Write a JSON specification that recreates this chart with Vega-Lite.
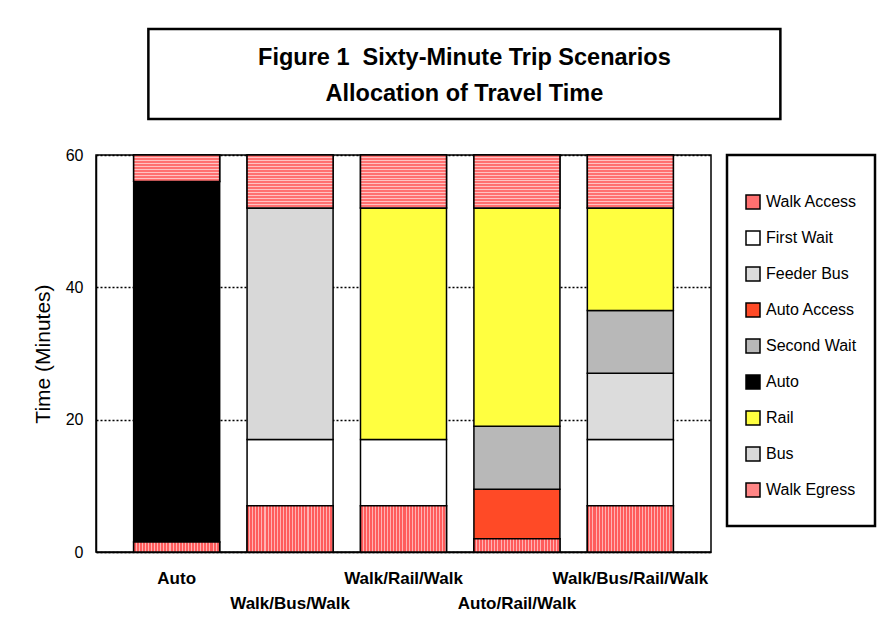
{
  "$schema": "https://vega.github.io/schema/vega-lite/v6.json",
  "background": "white",
  "padding": {"left": 31, "top": 27, "right": 0, "bottom": 5},
  "spacing": 25,
  "center": true,
  "resolve": {"legend": {"color": "independent"}},
  "config": {
    "font": "Liberation Sans",
    "view": {"stroke": "black", "strokeWidth": 1.5},
    "axis": {"domainColor": "black", "domainWidth": 1.5, "labelColor": "black", "titleColor": "black"}
  },
  "vconcat": [
    {
      "width": 632,
      "height": 90,
      "view": {"stroke": "black", "strokeWidth": 2.5},
      "data": {"values": [
        {"line": "Figure 1\u00a0 Sixty-Minute Trip Scenarios", "row": 1},
        {"line": "Allocation of Travel Time", "row": 2}
      ]},
      "mark": {"type": "text", "fontSize": 23.5, "fontWeight": "bold", "color": "black", "dy": 2},
      "encoding": {
        "y": {
          "field": "row", "type": "ordinal",
          "scale": {"type": "point", "padding": 0.76},
          "axis": {"orient": "right", "labels": false, "ticks": false, "domain": false, "grid": false, "title": null, "minExtent": 43, "maxExtent": 43}
        },
        "text": {"field": "line"}
      }
    },
    {
      "width": 615,
      "height": 397,
      "data": {"values": [
        {"mode": "Auto", "component": "Walk Access", "seq": 1, "minutes": 1.5},
        {"mode": "Auto", "component": "Auto", "seq": 6, "minutes": 54.5},
        {"mode": "Auto", "component": "Walk Egress", "seq": 9, "minutes": 4},
        {"mode": "Walk/Bus/Walk", "component": "Walk Access", "seq": 1, "minutes": 7},
        {"mode": "Walk/Bus/Walk", "component": "First Wait", "seq": 2, "minutes": 10},
        {"mode": "Walk/Bus/Walk", "component": "Bus", "seq": 8, "minutes": 35},
        {"mode": "Walk/Bus/Walk", "component": "Walk Egress", "seq": 9, "minutes": 8},
        {"mode": "Walk/Rail/Walk", "component": "Walk Access", "seq": 1, "minutes": 7},
        {"mode": "Walk/Rail/Walk", "component": "First Wait", "seq": 2, "minutes": 10},
        {"mode": "Walk/Rail/Walk", "component": "Rail", "seq": 7, "minutes": 35},
        {"mode": "Walk/Rail/Walk", "component": "Walk Egress", "seq": 9, "minutes": 8},
        {"mode": "Auto/Rail/Walk", "component": "Walk Access", "seq": 1, "minutes": 2},
        {"mode": "Auto/Rail/Walk", "component": "Auto Access", "seq": 4, "minutes": 7.5},
        {"mode": "Auto/Rail/Walk", "component": "Second Wait", "seq": 5, "minutes": 9.5},
        {"mode": "Auto/Rail/Walk", "component": "Rail", "seq": 7, "minutes": 33},
        {"mode": "Auto/Rail/Walk", "component": "Walk Egress", "seq": 9, "minutes": 8},
        {"mode": "Walk/Bus/Rail/Walk", "component": "Walk Access", "seq": 1, "minutes": 7},
        {"mode": "Walk/Bus/Rail/Walk", "component": "First Wait", "seq": 2, "minutes": 10},
        {"mode": "Walk/Bus/Rail/Walk", "component": "Feeder Bus", "seq": 3, "minutes": 10},
        {"mode": "Walk/Bus/Rail/Walk", "component": "Second Wait", "seq": 5, "minutes": 9.5},
        {"mode": "Walk/Bus/Rail/Walk", "component": "Rail", "seq": 7, "minutes": 15.5},
        {"mode": "Walk/Bus/Rail/Walk", "component": "Walk Egress", "seq": 9, "minutes": 8}
      ]},
      "transform": [
        {"stack": "minutes", "groupby": ["mode"], "sort": [{"field": "seq", "order": "ascending"}], "as": ["y0", "y1"]}
      ],
      "encoding": {
        "x": {
          "field": "mode", "type": "nominal",
          "sort": ["Auto", "Walk/Bus/Walk", "Walk/Rail/Walk", "Auto/Rail/Walk", "Walk/Bus/Rail/Walk"],
          "scale": {"paddingInner": 0.2416, "paddingOuter": 0.332},
          "axis": {
            "title": null, "labelAngle": 0, "ticks": false, "tickSize": 0,
            "labelFontSize": 17, "labelFontWeight": "bold", "labelPadding": 18, "labelLineHeight": 25,
            "labelExpr": "indexof(['Walk/Bus/Walk','Auto/Rail/Walk'], datum.label) >= 0 ? ['', datum.label] : datum.label"
          }
        },
        "y": {
          "field": "y1", "type": "quantitative",
          "scale": {"domain": [0, 60], "nice": false},
          "axis": {
            "title": "Time (Minutes)", "titleFontSize": 21, "titleFontWeight": "normal", "titlePadding": 12,
            "values": [0, 20, 40, 60], "labelFontSize": 16, "labelPadding": 13, "ticks": false, "tickSize": 0,
            "grid": true, "gridColor": "black", "gridDash": [2, 2], "gridWidth": 1.5, "gridOpacity": 1
          }
        },
        "y2": {"field": "y0"}
      },
      "layer": [
        {
          "mark": {"type": "bar", "stroke": "black", "strokeWidth": 1.5},
          "encoding": {
            "color": {
              "field": "component", "type": "nominal",
              "scale": {
                "domain": ["Walk Access", "First Wait", "Feeder Bus", "Auto Access", "Second Wait", "Auto", "Rail", "Bus", "Walk Egress"],
                "range": ["#ff7070", "#ffffff", "#dcdcdc", "#ff4a26", "#b8b8b8", "#000000", "#ffff40", "#d8d8d8", "#ff8585"]
              },
              "legend": {
                "title": " ", "titleFontSize": 4, "titlePadding": 7,
                "orient": "right", "offset": 16, "padding": 18,
                "strokeColor": "black",
                "labelFontSize": 16, "labelColor": "black", "labelOffset": 5,
                "symbolType": "square", "symbolSize": 196, "symbolStrokeColor": "black", "symbolStrokeWidth": 1.5,
                "symbolOpacity": 1, "clipHeight": 36, "rowPadding": 0, "labelLimit": 200,
                "encode": {"legend": {"update": {"strokeWidth": {"value": 2.5}}}}
              }
            }
          }
        },
        {
          "transform": [{"filter": "datum.component === 'Walk Access'"}],
          "mark": {
            "type": "bar", "stroke": "black", "strokeWidth": 1.5,
            "fill": {"gradient": "linear", "x1": 0, "y1": 0, "x2": 1, "y2": 0, "stops": [
              {"offset": 0, "color": "#ff5c5c"}, {"offset": 0.0238, "color": "#ff5c5c"}, {"offset": 0.0238, "color": "#ffb3b3"}, {"offset": 0.0357, "color": "#ffb3b3"},
              {"offset": 0.0357, "color": "#ff5c5c"}, {"offset": 0.0595, "color": "#ff5c5c"}, {"offset": 0.0595, "color": "#ffb3b3"}, {"offset": 0.0714, "color": "#ffb3b3"},
              {"offset": 0.0714, "color": "#ff5c5c"}, {"offset": 0.0952, "color": "#ff5c5c"}, {"offset": 0.0952, "color": "#ffb3b3"}, {"offset": 0.1071, "color": "#ffb3b3"},
              {"offset": 0.1071, "color": "#ff5c5c"}, {"offset": 0.1310, "color": "#ff5c5c"}, {"offset": 0.1310, "color": "#ffb3b3"}, {"offset": 0.1429, "color": "#ffb3b3"},
              {"offset": 0.1429, "color": "#ff5c5c"}, {"offset": 0.1667, "color": "#ff5c5c"}, {"offset": 0.1667, "color": "#ffb3b3"}, {"offset": 0.1786, "color": "#ffb3b3"},
              {"offset": 0.1786, "color": "#ff5c5c"}, {"offset": 0.2024, "color": "#ff5c5c"}, {"offset": 0.2024, "color": "#ffb3b3"}, {"offset": 0.2143, "color": "#ffb3b3"},
              {"offset": 0.2143, "color": "#ff5c5c"}, {"offset": 0.2381, "color": "#ff5c5c"}, {"offset": 0.2381, "color": "#ffb3b3"}, {"offset": 0.2500, "color": "#ffb3b3"},
              {"offset": 0.2500, "color": "#ff5c5c"}, {"offset": 0.2738, "color": "#ff5c5c"}, {"offset": 0.2738, "color": "#ffb3b3"}, {"offset": 0.2857, "color": "#ffb3b3"},
              {"offset": 0.2857, "color": "#ff5c5c"}, {"offset": 0.3095, "color": "#ff5c5c"}, {"offset": 0.3095, "color": "#ffb3b3"}, {"offset": 0.3214, "color": "#ffb3b3"},
              {"offset": 0.3214, "color": "#ff5c5c"}, {"offset": 0.3452, "color": "#ff5c5c"}, {"offset": 0.3452, "color": "#ffb3b3"}, {"offset": 0.3571, "color": "#ffb3b3"},
              {"offset": 0.3571, "color": "#ff5c5c"}, {"offset": 0.3810, "color": "#ff5c5c"}, {"offset": 0.3810, "color": "#ffb3b3"}, {"offset": 0.3929, "color": "#ffb3b3"},
              {"offset": 0.3929, "color": "#ff5c5c"}, {"offset": 0.4167, "color": "#ff5c5c"}, {"offset": 0.4167, "color": "#ffb3b3"}, {"offset": 0.4286, "color": "#ffb3b3"},
              {"offset": 0.4286, "color": "#ff5c5c"}, {"offset": 0.4524, "color": "#ff5c5c"}, {"offset": 0.4524, "color": "#ffb3b3"}, {"offset": 0.4643, "color": "#ffb3b3"},
              {"offset": 0.4643, "color": "#ff5c5c"}, {"offset": 0.4881, "color": "#ff5c5c"}, {"offset": 0.4881, "color": "#ffb3b3"}, {"offset": 0.5000, "color": "#ffb3b3"},
              {"offset": 0.5000, "color": "#ff5c5c"}, {"offset": 0.5238, "color": "#ff5c5c"}, {"offset": 0.5238, "color": "#ffb3b3"}, {"offset": 0.5357, "color": "#ffb3b3"},
              {"offset": 0.5357, "color": "#ff5c5c"}, {"offset": 0.5595, "color": "#ff5c5c"}, {"offset": 0.5595, "color": "#ffb3b3"}, {"offset": 0.5714, "color": "#ffb3b3"},
              {"offset": 0.5714, "color": "#ff5c5c"}, {"offset": 0.5952, "color": "#ff5c5c"}, {"offset": 0.5952, "color": "#ffb3b3"}, {"offset": 0.6071, "color": "#ffb3b3"},
              {"offset": 0.6071, "color": "#ff5c5c"}, {"offset": 0.6310, "color": "#ff5c5c"}, {"offset": 0.6310, "color": "#ffb3b3"}, {"offset": 0.6429, "color": "#ffb3b3"},
              {"offset": 0.6429, "color": "#ff5c5c"}, {"offset": 0.6667, "color": "#ff5c5c"}, {"offset": 0.6667, "color": "#ffb3b3"}, {"offset": 0.6786, "color": "#ffb3b3"},
              {"offset": 0.6786, "color": "#ff5c5c"}, {"offset": 0.7024, "color": "#ff5c5c"}, {"offset": 0.7024, "color": "#ffb3b3"}, {"offset": 0.7143, "color": "#ffb3b3"},
              {"offset": 0.7143, "color": "#ff5c5c"}, {"offset": 0.7381, "color": "#ff5c5c"}, {"offset": 0.7381, "color": "#ffb3b3"}, {"offset": 0.7500, "color": "#ffb3b3"},
              {"offset": 0.7500, "color": "#ff5c5c"}, {"offset": 0.7738, "color": "#ff5c5c"}, {"offset": 0.7738, "color": "#ffb3b3"}, {"offset": 0.7857, "color": "#ffb3b3"},
              {"offset": 0.7857, "color": "#ff5c5c"}, {"offset": 0.8095, "color": "#ff5c5c"}, {"offset": 0.8095, "color": "#ffb3b3"}, {"offset": 0.8214, "color": "#ffb3b3"},
              {"offset": 0.8214, "color": "#ff5c5c"}, {"offset": 0.8452, "color": "#ff5c5c"}, {"offset": 0.8452, "color": "#ffb3b3"}, {"offset": 0.8571, "color": "#ffb3b3"},
              {"offset": 0.8571, "color": "#ff5c5c"}, {"offset": 0.8810, "color": "#ff5c5c"}, {"offset": 0.8810, "color": "#ffb3b3"}, {"offset": 0.8929, "color": "#ffb3b3"},
              {"offset": 0.8929, "color": "#ff5c5c"}, {"offset": 0.9167, "color": "#ff5c5c"}, {"offset": 0.9167, "color": "#ffb3b3"}, {"offset": 0.9286, "color": "#ffb3b3"},
              {"offset": 0.9286, "color": "#ff5c5c"}, {"offset": 0.9524, "color": "#ff5c5c"}, {"offset": 0.9524, "color": "#ffb3b3"}, {"offset": 0.9643, "color": "#ffb3b3"},
              {"offset": 0.9643, "color": "#ff5c5c"}, {"offset": 0.9881, "color": "#ff5c5c"}, {"offset": 0.9881, "color": "#ffb3b3"}, {"offset": 1, "color": "#ffb3b3"}
            ]}
          }
        },
        {
          "transform": [{"filter": "datum.component === 'Walk Egress'"}],
          "mark": {
            "type": "bar", "stroke": "black", "strokeWidth": 1.5,
            "fill": {"gradient": "linear", "x1": 0, "y1": 0, "x2": 0, "y2": 1, "stops": [
              {"offset": 0, "color": "#ff7070"}, {"offset": 0.0370, "color": "#ff7070"}, {"offset": 0.0370, "color": "#ffc2c2"}, {"offset": 0.0556, "color": "#ffc2c2"},
              {"offset": 0.0556, "color": "#ff7070"}, {"offset": 0.0926, "color": "#ff7070"}, {"offset": 0.0926, "color": "#ffc2c2"}, {"offset": 0.1111, "color": "#ffc2c2"},
              {"offset": 0.1111, "color": "#ff7070"}, {"offset": 0.1481, "color": "#ff7070"}, {"offset": 0.1481, "color": "#ffc2c2"}, {"offset": 0.1667, "color": "#ffc2c2"},
              {"offset": 0.1667, "color": "#ff7070"}, {"offset": 0.2037, "color": "#ff7070"}, {"offset": 0.2037, "color": "#ffc2c2"}, {"offset": 0.2222, "color": "#ffc2c2"},
              {"offset": 0.2222, "color": "#ff7070"}, {"offset": 0.2593, "color": "#ff7070"}, {"offset": 0.2593, "color": "#ffc2c2"}, {"offset": 0.2778, "color": "#ffc2c2"},
              {"offset": 0.2778, "color": "#ff7070"}, {"offset": 0.3148, "color": "#ff7070"}, {"offset": 0.3148, "color": "#ffc2c2"}, {"offset": 0.3333, "color": "#ffc2c2"},
              {"offset": 0.3333, "color": "#ff7070"}, {"offset": 0.3704, "color": "#ff7070"}, {"offset": 0.3704, "color": "#ffc2c2"}, {"offset": 0.3889, "color": "#ffc2c2"},
              {"offset": 0.3889, "color": "#ff7070"}, {"offset": 0.4259, "color": "#ff7070"}, {"offset": 0.4259, "color": "#ffc2c2"}, {"offset": 0.4444, "color": "#ffc2c2"},
              {"offset": 0.4444, "color": "#ff7070"}, {"offset": 0.4815, "color": "#ff7070"}, {"offset": 0.4815, "color": "#ffc2c2"}, {"offset": 0.5000, "color": "#ffc2c2"},
              {"offset": 0.5000, "color": "#ff7070"}, {"offset": 0.5370, "color": "#ff7070"}, {"offset": 0.5370, "color": "#ffc2c2"}, {"offset": 0.5556, "color": "#ffc2c2"},
              {"offset": 0.5556, "color": "#ff7070"}, {"offset": 0.5926, "color": "#ff7070"}, {"offset": 0.5926, "color": "#ffc2c2"}, {"offset": 0.6111, "color": "#ffc2c2"},
              {"offset": 0.6111, "color": "#ff7070"}, {"offset": 0.6481, "color": "#ff7070"}, {"offset": 0.6481, "color": "#ffc2c2"}, {"offset": 0.6667, "color": "#ffc2c2"},
              {"offset": 0.6667, "color": "#ff7070"}, {"offset": 0.7037, "color": "#ff7070"}, {"offset": 0.7037, "color": "#ffc2c2"}, {"offset": 0.7222, "color": "#ffc2c2"},
              {"offset": 0.7222, "color": "#ff7070"}, {"offset": 0.7593, "color": "#ff7070"}, {"offset": 0.7593, "color": "#ffc2c2"}, {"offset": 0.7778, "color": "#ffc2c2"},
              {"offset": 0.7778, "color": "#ff7070"}, {"offset": 0.8148, "color": "#ff7070"}, {"offset": 0.8148, "color": "#ffc2c2"}, {"offset": 0.8333, "color": "#ffc2c2"},
              {"offset": 0.8333, "color": "#ff7070"}, {"offset": 0.8704, "color": "#ff7070"}, {"offset": 0.8704, "color": "#ffc2c2"}, {"offset": 0.8889, "color": "#ffc2c2"},
              {"offset": 0.8889, "color": "#ff7070"}, {"offset": 0.9259, "color": "#ff7070"}, {"offset": 0.9259, "color": "#ffc2c2"}, {"offset": 0.9444, "color": "#ffc2c2"},
              {"offset": 0.9444, "color": "#ff7070"}, {"offset": 0.9815, "color": "#ff7070"}, {"offset": 0.9815, "color": "#ffc2c2"}, {"offset": 1, "color": "#ffc2c2"}
            ]}
          }
        }
      ]
    }
  ]
}
